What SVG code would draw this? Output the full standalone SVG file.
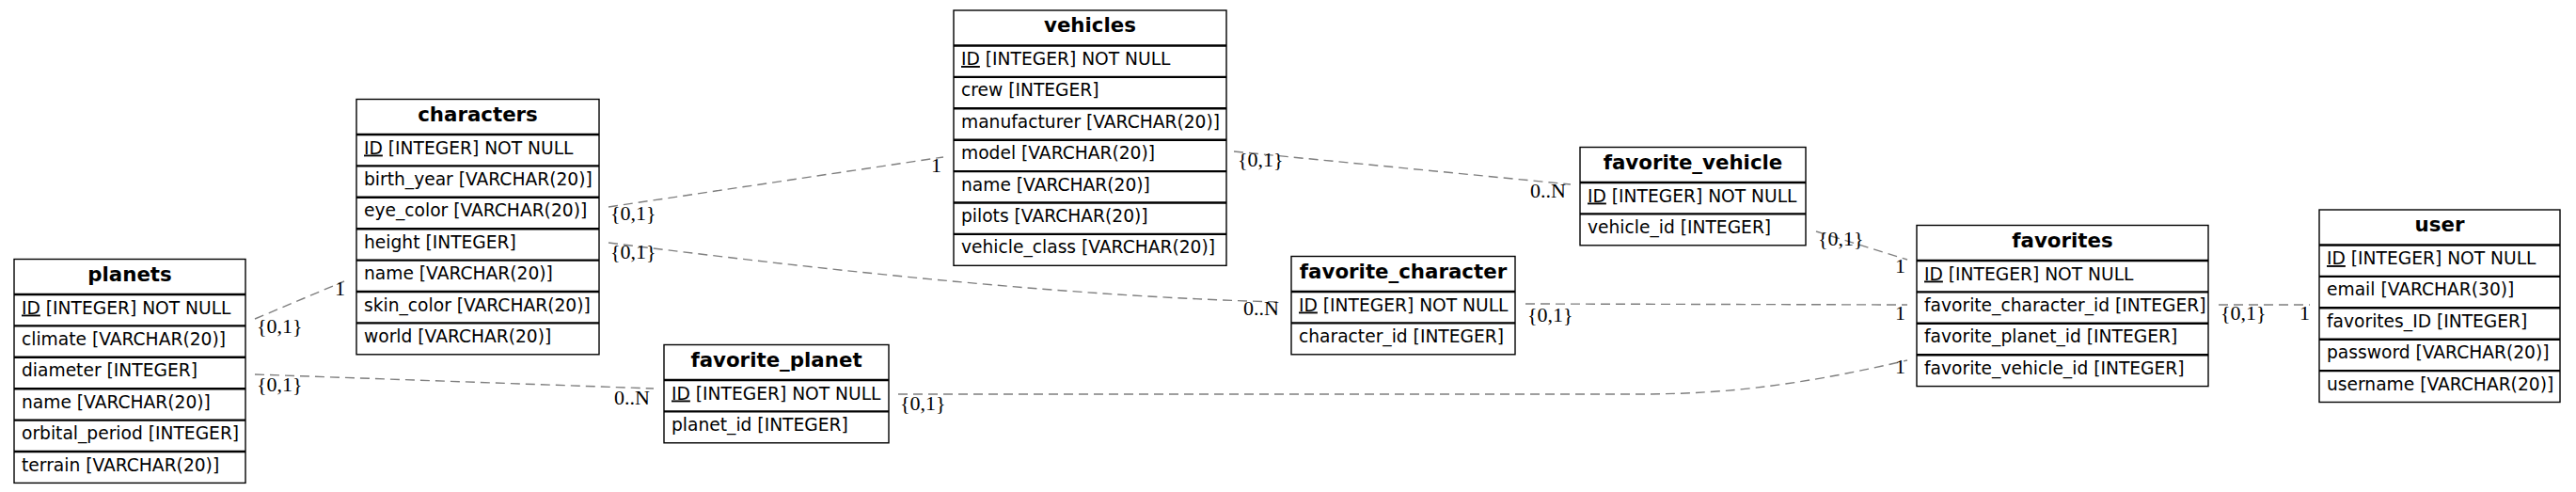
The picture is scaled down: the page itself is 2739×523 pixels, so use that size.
<svg xmlns="http://www.w3.org/2000/svg" width="2739" height="523" viewBox="0 0 2739 523">
<style>
.box{fill:#fff;stroke:#000;stroke-width:1.4}
.sep{fill:none;stroke:#000;stroke-width:2.4}
.hd{font-family:"DejaVu Sans",sans-serif;font-weight:bold;font-size:21.33px;text-anchor:middle;fill:#000}
.rw{font-family:"DejaVu Sans",sans-serif;font-size:18.67px;fill:#000}
.pk{text-decoration:underline}
.edge{fill:none;stroke:#7f7f7f;stroke-width:1.4;stroke-dasharray:10,6}
.lb{font-family:"Liberation Serif","Times New Roman",serif;font-size:22px;fill:#000}
</style>
<rect width="2739" height="523" fill="#fff"/>
<g id="connectors">
<path class="edge" d="M271,339 L366,299"/>
<path class="edge" d="M271,398 L695,413"/>
<path class="edge" d="M647,220 L1003,167"/>
<path class="edge" d="M647,258 C900,290 1150,316 1363,321"/>
<path class="edge" d="M1312,161 L1670,196"/>
<path class="edge" d="M1931,246 L2028,276"/>
<path class="edge" d="M1622,323 L2028,324"/>
<path class="edge" d="M955,419 L1740,419 C1820,419 1900,413 2028,383"/>
<path class="edge" d="M2359,324 L2456,324"/>
<text class="lb" x="273" y="354">{0,1}</text>
<text class="lb" x="356" y="314">1</text>
<text class="lb" x="273" y="416">{0,1}</text>
<text class="lb" x="653" y="430">0..N</text>
<text class="lb" x="649" y="234">{0,1}</text>
<text class="lb" x="990" y="183">1</text>
<text class="lb" x="649" y="275">{0,1}</text>
<text class="lb" x="1322" y="335">0..N</text>
<text class="lb" x="1316" y="177">{0,1}</text>
<text class="lb" x="1627" y="210">0..N</text>
<text class="lb" x="1933" y="261">{0,1}</text>
<text class="lb" x="2015" y="290">1</text>
<text class="lb" x="1624" y="342">{0,1}</text>
<text class="lb" x="2015" y="340">1</text>
<text class="lb" x="957" y="436">{0,1}</text>
<text class="lb" x="2015" y="397">1</text>
<text class="lb" x="2361" y="340">{0,1}</text>
<text class="lb" x="2445" y="340">1</text>
</g>
<g id="planets">
<rect class="box" x="15" y="275.5" width="246" height="237.9"/>
<path class="sep" d="M15,313H261M15,346.4H261M15,379.8H261M15,413.2H261M15,446.6H261M15,480H261"/>
<text class="hd" x="138" y="298.5">planets</text>
<text class="rw" x="23" y="333.5"><tspan class="pk">ID</tspan> [INTEGER] NOT NULL</text>
<text class="rw" x="23" y="366.9">climate [VARCHAR(20)]</text>
<text class="rw" x="23" y="400.3">diameter [INTEGER]</text>
<text class="rw" x="23" y="433.7">name [VARCHAR(20)]</text>
<text class="rw" x="23" y="467.1">orbital_period [INTEGER]</text>
<text class="rw" x="23" y="500.5">terrain [VARCHAR(20)]</text>
</g>
<g id="characters">
<rect class="box" x="379" y="105.5" width="258" height="271.3"/>
<path class="sep" d="M379,143H637M379,176.4H637M379,209.8H637M379,243.2H637M379,276.6H637M379,310H637M379,343.4H637"/>
<text class="hd" x="508" y="128.5">characters</text>
<text class="rw" x="387" y="163.5"><tspan class="pk">ID</tspan> [INTEGER] NOT NULL</text>
<text class="rw" x="387" y="196.9">birth_year [VARCHAR(20)]</text>
<text class="rw" x="387" y="230.3">eye_color [VARCHAR(20)]</text>
<text class="rw" x="387" y="263.7">height [INTEGER]</text>
<text class="rw" x="387" y="297.1">name [VARCHAR(20)]</text>
<text class="rw" x="387" y="330.5">skin_color [VARCHAR(20)]</text>
<text class="rw" x="387" y="363.9">world [VARCHAR(20)]</text>
</g>
<g id="vehicles">
<rect class="box" x="1014" y="11" width="290" height="271.3"/>
<path class="sep" d="M1014,48.5H1304M1014,81.9H1304M1014,115.3H1304M1014,148.7H1304M1014,182.1H1304M1014,215.5H1304M1014,248.9H1304"/>
<text class="hd" x="1159" y="34">vehicles</text>
<text class="rw" x="1022" y="69"><tspan class="pk">ID</tspan> [INTEGER] NOT NULL</text>
<text class="rw" x="1022" y="102.4">crew [INTEGER]</text>
<text class="rw" x="1022" y="135.8">manufacturer [VARCHAR(20)]</text>
<text class="rw" x="1022" y="169.2">model [VARCHAR(20)]</text>
<text class="rw" x="1022" y="202.6">name [VARCHAR(20)]</text>
<text class="rw" x="1022" y="236">pilots [VARCHAR(20)]</text>
<text class="rw" x="1022" y="269.4">vehicle_class [VARCHAR(20)]</text>
</g>
<g id="favorite_vehicle">
<rect class="box" x="1680" y="156.5" width="240" height="104.3"/>
<path class="sep" d="M1680,194H1920M1680,227.4H1920"/>
<text class="hd" x="1800" y="179.5">favorite_vehicle</text>
<text class="rw" x="1688" y="214.5"><tspan class="pk">ID</tspan> [INTEGER] NOT NULL</text>
<text class="rw" x="1688" y="247.9">vehicle_id [INTEGER]</text>
</g>
<g id="favorite_character">
<rect class="box" x="1373" y="272.5" width="238" height="104.3"/>
<path class="sep" d="M1373,310H1611M1373,343.4H1611"/>
<text class="hd" x="1492" y="295.5">favorite_character</text>
<text class="rw" x="1381" y="330.5"><tspan class="pk">ID</tspan> [INTEGER] NOT NULL</text>
<text class="rw" x="1381" y="363.9">character_id [INTEGER]</text>
</g>
<g id="favorite_planet">
<rect class="box" x="706" y="366.5" width="239" height="104.3"/>
<path class="sep" d="M706,404H945M706,437.4H945"/>
<text class="hd" x="825.5" y="389.5">favorite_planet</text>
<text class="rw" x="714" y="424.5"><tspan class="pk">ID</tspan> [INTEGER] NOT NULL</text>
<text class="rw" x="714" y="457.9">planet_id [INTEGER]</text>
</g>
<g id="favorites">
<rect class="box" x="2038" y="239.5" width="310" height="171.1"/>
<path class="sep" d="M2038,277H2348M2038,310.4H2348M2038,343.8H2348M2038,377.2H2348"/>
<text class="hd" x="2193" y="262.5">favorites</text>
<text class="rw" x="2046" y="297.5"><tspan class="pk">ID</tspan> [INTEGER] NOT NULL</text>
<text class="rw" x="2046" y="330.9">favorite_character_id [INTEGER]</text>
<text class="rw" x="2046" y="364.3">favorite_planet_id [INTEGER]</text>
<text class="rw" x="2046" y="397.7">favorite_vehicle_id [INTEGER]</text>
</g>
<g id="user">
<rect class="box" x="2466" y="223" width="256" height="204.5"/>
<path class="sep" d="M2466,260.5H2722M2466,293.9H2722M2466,327.3H2722M2466,360.7H2722M2466,394.1H2722"/>
<text class="hd" x="2594" y="246">user</text>
<text class="rw" x="2474" y="281"><tspan class="pk">ID</tspan> [INTEGER] NOT NULL</text>
<text class="rw" x="2474" y="314.4">email [VARCHAR(30)]</text>
<text class="rw" x="2474" y="347.8">favorites_ID [INTEGER]</text>
<text class="rw" x="2474" y="381.2">password [VARCHAR(20)]</text>
<text class="rw" x="2474" y="414.6">username [VARCHAR(20)]</text>
</g>
</svg>
